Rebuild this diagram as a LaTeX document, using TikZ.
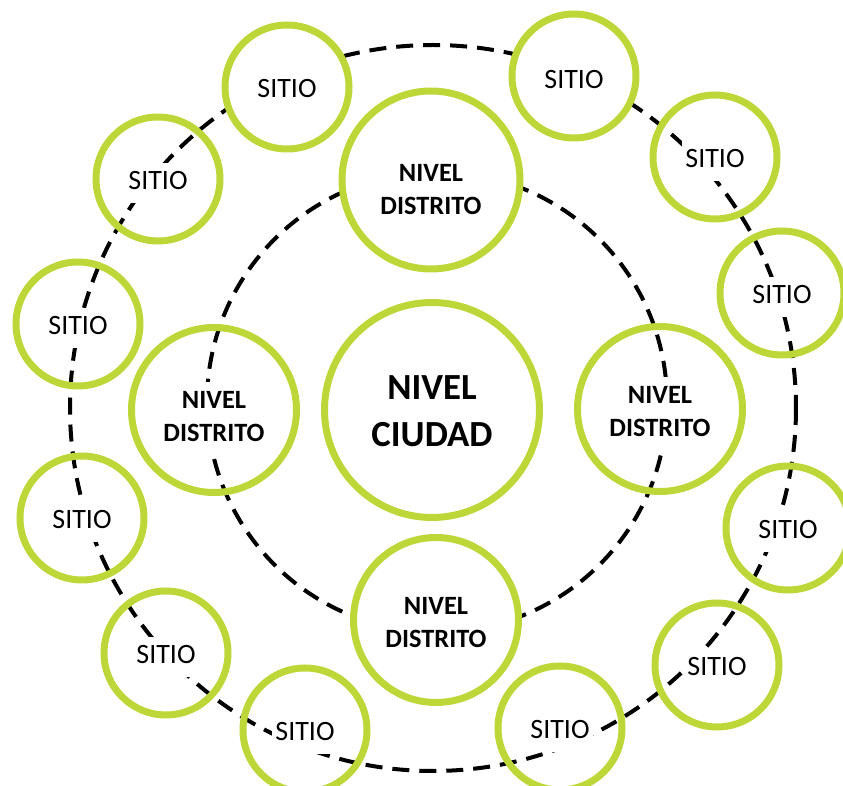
\documentclass[tikz,border=0pt]{standalone}
\usepackage{fontspec}
\setmainfont{Carlito}
\usetikzlibrary{positioning}
\definecolor{verde}{RGB}{190,215,56}
% texto con fondo blanco (tapa la linea punteada), bajado un poco
\newcommand{\rotulo}[2][2pt]{\raisebox{-#1}[\height][\depth]{\setlength{\fboxsep}{1.5pt}\colorbox{white}{\begin{tabular}{@{}c@{}}#2\end{tabular}}}}

\begin{document}
\begin{tikzpicture}[x=0.5pt,y=-0.5pt,
    anillo/.style={circle, draw=verde, line width=3.5pt, inner sep=0pt, align=center},
    tapa/.style={fill=white},
    sitio/.style={anillo, minimum size=62pt, font=\fontsize{14}{17}\selectfont},
    distrito/.style={anillo, minimum size=82.5pt, font=\bfseries\fontsize{13.2}{16.5}\selectfont},
    ciudad/.style={anillo, minimum size=107.5pt, font=\bfseries\fontsize{18.4}{23.5}\selectfont},
    ruta/.style={dash pattern=on 8.5pt off 5pt, line width=2pt}]
    \useasboundingbox (0,0) rectangle (843,786);

    % anillos punteados
    \coordinate (centro) at (433,408);
    \draw[ruta] (centro) circle [radius=363];
    \draw[ruta] (437,402) circle [radius=230];

    \node[ciudad] (c) at (432,410) {\rotulo{NIVEL\\CIUDAD}};

    \node[distrito, tapa, minimum size=89pt] (d1) at (431,180) {\rotulo[5.5pt]{NIVEL\\DISTRITO}};
    \node[distrito]       (d2) at (660,409) {\rotulo{NIVEL\\DISTRITO}};
    \node[distrito, tapa] (d3) at (436,620) {\rotulo{NIVEL\\DISTRITO}};
    \node[distrito]       (d4) at (214,410) {\rotulo[4pt]{NIVEL\\DISTRITO}};

    \node[sitio, tapa] (s1)  at (287,87)  {\rotulo{SITIO}};
    \node[sitio, tapa] (s2)  at (574,76)  {\rotulo[3pt]{SITIO}};
    \node[sitio]       (s3)  at (715,157) {\rotulo{SITIO}};
    \node[sitio]       (s4)  at (782,293) {\rotulo{SITIO}};
    \node[sitio]       (s5)  at (788,528) {\rotulo{SITIO}};
    \node[sitio]       (s6)  at (717,665) {\rotulo{SITIO}};
    \node[sitio]       (s7)  at (560,728) {\rotulo{SITIO}};
    \node[sitio]       (s8)  at (305,730) {\rotulo{SITIO}};
    \node[sitio]       (s9)  at (166,653) {\rotulo{SITIO}};
    \node[sitio]       (s10) at (82,518)  {\rotulo{SITIO}};
    \node[sitio]       (s11) at (78,324)  {\rotulo{SITIO}};
    \node[sitio]       (s12) at (158,179) {\rotulo{SITIO}};
\end{tikzpicture}
\end{document}
